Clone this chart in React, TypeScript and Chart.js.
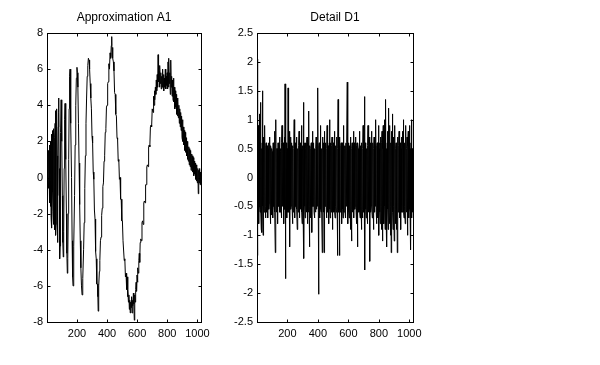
import React, { useEffect, useRef } from "react";
import { Chart, registerables } from "chart.js";

Chart.register(...registerables);

// Approximation A1: [sample index, value]
const A1_SAMPLES: [number, number][] = [
  [1, 0.3], [2, 1.4], [3, 0.6], [4, -0.4], [5, 0.5], [6, 1.2], [7, 0.1], [8, -0.2], [9, 1.0], [10, 0.9],
  [11, -0.3], [12, -0.6], [13, 0.9], [14, 1.5], [15, 0.2], [16, -1.0], [17, 0.4], [18, 1.8], [19, 0.6], [20, -1.4],
  [21, -0.2], [22, 2.0], [23, 0.8], [24, -1.6], [25, -0.6], [26, 1.2], [27, 1.5], [28, -2.2], [29, -0.5], [30, 2.4],
  [31, 1.0], [32, -1.0], [33, -1.6], [34, -2.8], [35, 0.2], [36, 1.8], [37, 2.2], [38, 2.6], [39, 0.6], [40, -0.8],
  [41, -1.9], [42, -2.6], [43, -1.0], [44, 0.8], [45, 2.0], [46, 2.7], [47, 2.5], [48, 2.0], [49, -0.4], [50, -2.4],
  [51, -2.6], [52, -2.9], [53, -0.5], [54, 2.2], [55, 3.0], [56, 3.7], [57, 2.4], [58, 1.0], [59, -1.5], [60, -3.2],
  [62, -2.6], [64, 3.0], [66, 3.8], [68, 1.2], [70, -2.8], [72, -3.6], [74, -1.0], [76, 2.8], [78, 4.4], [80, 3.6],
  [82, 0.5], [84, -3.0], [86, -4.5], [88, -3.8], [90, -0.5], [92, 2.5], [95, 4.3], [98, 4.1], [100, 2.0], [103, -1.0],
  [106, -3.6], [109, -4.4], [112, -3.0], [115, 0.5], [118, 3.2], [121, 4.1], [124, 3.5], [127, 1.0], [130, -2.0],
  [133, -4.2], [136, -5.3], [139, -4.5], [142, -2.0], [145, 1.0], [148, 3.8], [151, 5.6], [154, 6.0], [157, 5.2],
  [160, 3.0], [164, 0.0], [168, -3.5], [171, -5.5], [174, -6.0], [177, -5.4], [180, -3.8], [184, -1.0], [188, 1.8],
  [192, 4.0], [196, 5.5], [200, 6.1], [203, 5.8], [206, 5.0], [210, 3.0], [214, 0.8], [218, -1.5], [222, -3.5],
  [226, -5.0], [230, -6.0], [234, -6.5], [237, -6.2], [240, -5.6], [244, -4.0], [248, -2.5], [252, -0.6], [256, 1.2],
  [260, 3.0], [264, 4.4], [268, 5.6], [272, 6.2], [276, 6.6], [280, 6.5], [284, 6.0], [288, 5.2], [292, 4.4],
  [296, 3.8], [300, 2.3], [304, 1.9], [308, 0.3], [312, -0.1], [316, -1.8], [320, -2.3], [324, -4.1], [328, -4.5],
  [332, -5.9], [336, -5.9], [339, -6.6], [341, -7.4], [343, -6.2], [346, -6.0], [349, -5.2], [352, -4.6], [356, -3.5],
  [360, -3.3], [364, -2.1], [368, -1.7], [372, -0.5], [376, -0.3], [380, 0.9], [384, 1.2], [388, 2.5], [392, 2.7],
  [396, 3.9], [400, 4.0], [404, 5.2], [408, 5.3], [412, 6.3], [416, 6.0], [420, 6.9], [424, 6.6], [428, 7.3],
  [431, 7.8], [433, 6.7], [436, 7.2], [439, 6.6], [442, 6.4], [446, 5.9], [450, 4.7], [454, 4.6], [458, 3.5],
  [462, 3.4], [466, 2.2], [470, 2.1], [474, 0.9], [478, 1.0], [482, -0.1], [486, 0.0], [490, -1.2], [494, -1.2],
  [498, -2.4], [502, -2.4], [506, -3.5], [510, -3.5], [514, -4.6], [518, -4.5], [522, -5.5], [526, -5.3], [530, -6.2],
  [533, -5.5], [536, -6.6], [539, -6.2], [542, -6.9], [545, -6.5], [548, -7.3], [551, -6.8], [554, -7.5], [557, -6.9],
  [560, -7.2], [563, -6.6], [566, -7.5], [569, -6.8], [572, -7.1], [575, -6.4], [578, -7.0], [581, -7.9], [584, -6.5],
  [587, -6.9], [590, -6.2], [593, -5.8], [596, -6.3], [599, -5.4], [602, -5.8], [605, -5.0], [608, -5.3], [611, -4.6],
  [614, -4.2], [617, -4.7], [620, -3.6], [624, -3.4], [628, -3.5], [632, -2.5], [636, -2.4], [640, -2.6], [644, -1.4],
  [648, -1.3], [652, -1.4], [656, -0.4], [660, -0.4], [664, 0.6], [668, 0.7], [672, 0.6], [676, 1.7], [680, 1.8],
  [684, 1.7], [688, 2.8], [692, 2.9], [696, 2.8], [700, 3.8], [703, 3.8], [706, 3.6], [709, 4.5], [712, 4.0],
  [715, 4.8], [718, 4.3], [721, 5.0], [724, 4.6], [727, 5.4], [730, 4.8], [733, 5.7], [736, 5.0], [739, 6.8],
  [742, 5.3], [745, 5.9], [748, 5.0], [751, 6.2], [754, 5.2], [757, 5.8], [760, 4.9], [763, 5.6], [766, 5.0],
  [769, 6.0], [772, 5.1], [775, 5.7], [778, 4.8], [781, 5.5], [784, 5.0], [787, 6.0], [790, 4.9], [793, 5.6],
  [796, 5.1], [799, 5.8], [802, 4.9], [805, 6.4], [808, 5.0], [811, 6.6], [814, 5.2], [817, 5.8], [820, 4.6],
  [823, 6.5], [826, 5.0], [829, 5.6], [832, 4.5], [835, 5.4], [838, 4.3], [841, 5.5], [844, 4.2], [847, 5.0],
  [850, 3.8], [853, 4.8], [856, 3.9], [859, 4.6], [862, 3.5], [865, 4.4], [868, 3.4], [871, 4.2], [874, 3.3],
  [877, 4.0], [880, 3.0], [883, 3.8], [886, 2.8], [889, 3.6], [892, 2.6], [895, 3.4], [898, 2.2], [901, 3.2],
  [904, 2.0], [907, 2.8], [910, 1.8], [913, 2.6], [916, 1.5], [919, 2.5], [922, 1.4], [925, 2.2], [928, 1.2],
  [931, 2.0], [934, 1.0], [937, 1.8], [940, 0.9], [943, 1.7], [946, 0.7], [949, 1.6], [952, 0.6], [955, 1.5],
  [958, 0.4], [961, 1.3], [964, 0.5], [967, 1.2], [970, 0.3], [973, 1.1], [976, 0.1], [979, 0.9], [982, 0.2],
  [985, 0.8], [988, -0.1], [991, 0.7], [994, -0.2], [997, 0.6], [1000, -0.3], [1003, 0.5], [1006, -0.9], [1009, 0.4],
  [1012, -0.3], [1015, 0.5], [1018, -0.4], [1021, 0.3], [1024, -0.2],
];

// Detail D1: one value every D1_STEP samples, starting at sample 1
const D1_STEP = 2;
const D1_VALUES: number[] = [
  2.05, -0.6, -1.35, 0.5, 0.9, -0.55, -0.8, 0.6, 1.1, -0.5, -0.6, 0.65, 1.3, -0.55, -0.9, 0.5, -0.95, 0.6, 1.5, -0.5, -1.0, 0.55, 0.7, -0.6, -0.5, 0.6, 0.9, -0.5, -0.7, 0.55, 0.6, -0.55,
  -0.6, 0.55, 0.5, -0.6, -0.7, 0.5, 0.6, -0.55, -0.45, 0.6, 0.7, -0.5, -0.8, 0.55, 0.5, -0.65, -0.6, 0.5, 0.45, -0.55, -0.7, 0.6, 0.6, -0.5, -0.5, 0.55, 0.8, -0.6, -1.3, 0.5, 1.0, -0.55,
  -0.6, 0.5, 0.5, -0.55, -0.8, 0.6, 0.6, -0.5, -0.5, 0.55, 0.7, -0.6, -0.6, 0.5, 0.45, -0.55, -0.7, 0.6, 0.9, -0.5, -0.5, 0.55, 0.6, -0.6, -0.8, 0.5, 0.7, -0.55, 1.62, -0.5, -1.75, 0.6,
  0.6, -0.55, -0.7, 0.5, 0.5, -0.6, 1.55, -0.5, -0.6, 0.55, 0.8, -0.6, -1.2, 0.5, 0.7, -0.55, -0.5, 0.6, 0.6, -0.5, -0.8, 0.55, 0.5, -0.6, -0.6, 0.5, 1.0, -0.55, -0.7, 0.6, 0.6, -0.5,
  -0.5, 0.6, 0.7, -0.55, -0.9, 0.5, 0.5, -0.6, -0.6, 0.55, 0.8, -0.5, -0.7, 0.6, 0.6, -0.55, -0.5, 0.5, 0.9, -0.6, -0.8, 0.55, 0.5, -0.5, 1.3, -0.6, -1.4, 0.55, 0.6, -0.5, -0.7, 0.6,
  0.5, -0.55, -0.6, 0.6, 0.7, -0.5, -0.8, 0.55, 0.6, -0.6, 1.15, -0.5, -1.2, 0.55, 0.5, -0.6, -0.7, 0.5, 0.6, -0.55, -0.95, 0.6, 0.8, -0.5, -0.5, 0.55, 0.6, -0.6, -0.7, 0.5, 0.5, -0.55,
  -0.6, 0.5, 0.7, -0.55, -0.5, 0.6, 0.8, -0.5, 1.55, -0.6, -2.02, 0.55, 0.6, -0.5, -0.7, 0.6, 0.9, -0.55, -0.6, 0.5, 0.5, -0.6, -1.3, 0.55, 0.7, -0.5, -0.6, 0.6, -1.3, 0.55, 0.8, -0.5,
  -0.5, 0.6, 0.6, -0.55, -0.7, 0.5, 0.9, -0.6, -0.6, 0.55, 0.5, -0.5, -0.8, 0.6, 1.0, -0.55, -0.7, 0.5, 0.6, -0.6, -0.5, 0.55, 0.7, -0.5, -0.9, 0.6, 0.6, -0.55, -0.6, 0.5, 0.8, -0.6,
  -0.7, 0.55, 0.5, -0.5, -0.6, 0.6, 0.7, -0.55, -1.35, 0.5, 1.35, -0.6, -0.6, 0.55, -1.35, 0.5, 0.7, -0.6, -0.5, 0.55, 0.6, -0.5, -0.8, 0.6, 0.5, -0.55, -0.7, 0.5, 0.9, -0.6, -0.6, 0.55,
  0.5, -0.6, -0.7, 0.55, 0.6, -0.5, -0.5, 0.6, 1.65, -0.55, -0.8, 0.5, 0.6, -0.6, -0.7, 0.55, 0.5, -0.5, -0.9, 0.6, 0.7, -0.55, -1.1, 0.5, 0.6, -0.6, -0.5, 0.55, 0.8, -0.5, -0.7, 0.6,
  0.6, -0.55, -0.5, 0.5, 0.7, -0.6, -0.8, 0.55, 0.6, -0.5, -1.2, 0.6, 0.5, -0.55, -0.6, 0.5, 0.8, -0.6, -0.7, 0.55, 0.5, -0.5, -0.9, 0.6, 0.6, -0.55, -0.7, 0.5, 0.9, -0.6, -0.6, 0.55,
  1.4, -0.5, -1.6, 0.6, 0.6, -0.55, -0.7, 0.5, 0.5, -0.6, -0.8, 0.55, 0.9, -0.5, -0.6, 0.6, 0.7, -0.55, -1.45, 0.5, 0.6, -0.6, -0.5, 0.55, 0.8, -0.5, -0.7, 0.6, 0.6, -0.55, -0.9, 0.5,
  0.7, -0.6, -0.6, 0.55, 0.5, -0.5, 1.0, -0.6, -0.8, 0.55, 0.6, -0.5, -0.7, 0.6, 0.9, -0.55, -1.0, 0.5, 0.6, -0.6, -0.8, 0.55, 0.7, -0.5, -0.9, 0.6, 0.8, -0.55, -1.1, 0.5, 0.9, -0.6,
  -0.8, 0.55, 1.0, -0.5, -0.9, 0.6, 1.35, -0.55, -0.7, 0.5, -1.2, 0.6, 0.8, -0.55, -0.9, 0.5, 1.2, -0.6, -0.8, 0.55, 0.9, -0.5, -1.0, 0.6, -1.3, 0.55, 0.8, -0.5, 1.1, -0.6, -0.9, 0.55,
  0.7, -0.5, -1.1, 0.6, 0.9, -0.55, -0.8, 0.5, 0.6, -0.6, -0.9, 0.55, -1.3, 0.5, 0.7, -0.6, -0.6, 0.55, 0.8, -0.5, -0.7, 0.6, 0.6, -0.55, -0.9, 0.5, 0.7, -0.6, -0.6, 0.55, 0.8, -0.5,
  1.0, -0.6, -0.7, 0.55, 0.6, -0.5, -0.8, 0.6, 0.9, -0.55, -0.6, 0.5, 0.7, -0.6, -1.0, 0.55, 0.8, -0.5, -0.7, 0.6, 0.9, -0.55, -0.6, 0.5, -1.25, 0.6, 1.0, -0.55, -0.7, 0.5, 0.5, -0.6,
];

const X_MIN = 1;
const X_MAX = 1024;
const X_TICKS = [200, 400, 600, 800, 1000];
const A1_Y_TICKS = [-8, -6, -4, -2, 0, 2, 4, 6, 8];
const D1_Y_TICKS = [-2.5, -2, -1.5, -1, -0.5, 0, 0.5, 1, 1.5, 2, 2.5];

const FONT_FAMILY = '"Liberation Sans", Arial, Helvetica, sans-serif';

const framePlugin = {
  id: "frame",
  afterDraw(chart: any, _args: any, opts: any) {
    const { ctx, chartArea } = chart;
    const l = Math.floor(chartArea.left) + 0.5;
    const r = Math.floor(chartArea.right) + 0.5;
    const t = Math.floor(chartArea.top) + 0.5;
    const b = Math.floor(chartArea.bottom) + 0.5;
    const tl = 3;
    ctx.save();
    ctx.strokeStyle = "#000";
    ctx.lineWidth = 1;
    ctx.strokeRect(l, t, r - l, b - t);
    ctx.beginPath();
    const xs = chart.scales.x;
    const ys = chart.scales.y;
    for (const tk of xs.ticks) {
      const px = Math.round(xs.getPixelForValue(tk.value)) + 0.5;
      ctx.moveTo(px, b);
      ctx.lineTo(px, b - tl);
      ctx.moveTo(px, t);
      ctx.lineTo(px, t + tl);
    }
    for (const tk of ys.ticks) {
      const py = Math.round(ys.getPixelForValue(tk.value)) + 0.5;
      ctx.moveTo(l, py);
      ctx.lineTo(l + tl, py);
      ctx.moveTo(r, py);
      ctx.lineTo(r - tl, py);
    }
    ctx.stroke();
    ctx.fillStyle = "#000";
    ctx.font = `12px ${FONT_FAMILY}`;
    ctx.textAlign = "center";
    ctx.textBaseline = "middle";
    ctx.fillText(opts.title, (chartArea.left + chartArea.right) / 2, 18);
    ctx.restore();
  },
};

function makeConfig(
  points: { x: number; y: number }[],
  yMin: number,
  yMax: number,
  yTicks: number[],
  yAxisWidth: number,
  rightPad: number,
  title: string
): any {
  return {
    type: "line",
    data: {
      datasets: [
        {
          data: points,
          borderColor: "#000",
          borderWidth: 1,
          pointRadius: 0,
          tension: 0,
          fill: false,
        },
      ],
    },
    plugins: [framePlugin],
    options: {
      animation: false,
      responsive: false,
      maintainAspectRatio: false,
      devicePixelRatio: 1,
      layout: { padding: { top: 33, right: rightPad, left: 0, bottom: 0 } },
      plugins: {
        legend: { display: false },
        tooltip: { enabled: false },
        frame: { title },
      },
      scales: {
        x: {
          type: "linear",
          min: X_MIN,
          max: X_MAX,
          grid: { display: false, drawTicks: false },
          border: { display: false },
          afterBuildTicks: (s: any) => {
            s.ticks = X_TICKS.map((v) => ({ value: v }));
          },
          afterFit: (s: any) => {
            s.height = 43;
          },
          ticks: {
            autoSkip: false,
            maxRotation: 0,
            padding: 5,
            color: "#000",
            font: { family: FONT_FAMILY, size: 11 },
            callback: (v: any) => String(v),
          },
        },
        y: {
          type: "linear",
          min: yMin,
          max: yMax,
          grid: { display: false, drawTicks: false },
          border: { display: false },
          afterBuildTicks: (s: any) => {
            s.ticks = yTicks.map((v) => ({ value: v }));
          },
          afterFit: (s: any) => {
            s.width = yAxisWidth;
          },
          ticks: {
            autoSkip: false,
            padding: 4,
            color: "#000",
            font: { family: FONT_FAMILY, size: 11 },
            callback: (v: any) => String(v),
          },
        },
      },
    },
  };
}

function PlotCanvas(props: { left: number; width: number; config: () => any }) {
  const ref = useRef<HTMLCanvasElement | null>(null);
  useEffect(() => {
    if (!ref.current) return;
    const chart = new Chart(ref.current, props.config());
    return () => chart.destroy();
  }, []);
  return (
    <canvas
      ref={ref}
      width={props.width}
      height={365}
      style={{ position: "absolute", left: props.left, top: 0, width: props.width, height: 365 }}
    />
  );
}

export default function App() {
  const a1Points = A1_SAMPLES.map(([x, y]) => ({ x, y }));
  const d1Points = D1_VALUES.map((y, k) => ({ x: X_MIN + k * D1_STEP, y }));
  return (
    <div style={{ position: "absolute", left: 0, top: 0, width: 600, height: 365, background: "#fff" }}>
      <PlotCanvas
        left={0}
        width={230}
        config={() => makeConfig(a1Points, -8, 8, A1_Y_TICKS, 47, 29, "Approximation A1")}
      />
      <PlotCanvas
        left={230}
        width={370}
        config={() => makeConfig(d1Points, -2.5, 2.5, D1_Y_TICKS, 27, 187, "Detail D1")}
      />
    </div>
  );
}
